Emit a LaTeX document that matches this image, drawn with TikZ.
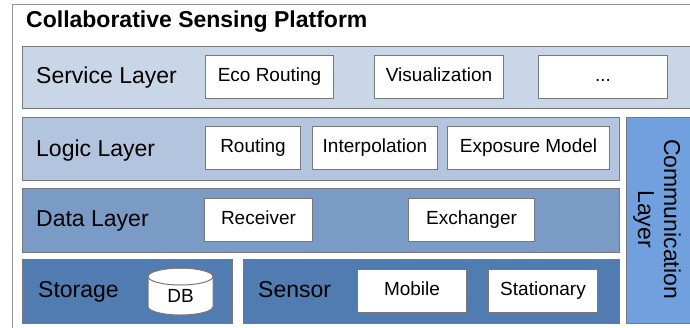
\documentclass[tikz,border=0pt]{standalone}
\usepackage{fontspec}
\setmainfont{Liberation Sans}
\usepackage{xcolor}
\usepackage{tikz}
\definecolor{FrameGray}{RGB}{150,150,150}
\definecolor{EdgeGray}{RGB}{120,120,120}
\definecolor{ServiceBlue}{RGB}{201,214,232}
\definecolor{LogicBlue}{RGB}{178,196,222}
\definecolor{DataBlue}{RGB}{122,155,198}
\definecolor{DeviceBlue}{RGB}{80,124,178}
\definecolor{CommBlue}{RGB}{112,161,222}

\tikzset{
  layerbox/.style={draw=EdgeGray,line width=1pt,anchor=north west,inner sep=0pt},
  itembox/.style={draw=EdgeGray,fill=white,line width=1pt,anchor=north west,
    inner sep=0pt,text height=13.6pt,text depth=4pt,
    font=\fontsize{19}{22}\selectfont},
  layerlabel/.style={anchor=base west,inner sep=0pt,font=\fontsize{23}{26}\selectfont}
}

\begin{document}
\begin{tikzpicture}[x=1pt,y=-1pt]
    \useasboundingbox (0,0) rectangle (690,327);
    % platform frame and title
    \draw[FrameGray,line width=1pt,fill=white] (12,4) rectangle (700,340);
    \node[anchor=base west,inner sep=0pt,font=\fontsize{23}{26}\selectfont\bfseries]
      (title) at (26,27) {Collaborative Sensing Platform};

    % layers
    \node[layerbox,fill=ServiceBlue,minimum width=680,minimum height=62] (service) at (22,46) {};
    \node[layerbox,fill=LogicBlue,minimum width=597,minimum height=63] (logic) at (22,117) {};
    \node[layerbox,fill=DataBlue,minimum width=597,minimum height=64] (data) at (22,188) {};
    \node[layerbox,fill=DeviceBlue,minimum width=210,minimum height=64] (storage) at (22,259) {};
    \node[layerbox,fill=DeviceBlue,minimum width=376,minimum height=64] (sensor) at (243,259) {};
    \node[layerbox,fill=CommBlue,minimum width=76,minimum height=206] (comm) at (626,117) {};

    \node[layerlabel] (servicelbl) at (36,83) {Service Layer};
    \node[layerlabel] (logiclbl) at (36,156) {Logic Layer};
    \node[layerlabel] (datalbl) at (36,226) {Data Layer};
    \node[layerlabel] (storagelbl) at (38,297) {Storage};
    \node[layerlabel] (sensorlbl) at (258,297) {Sensor};
    \node[rotate=-90,align=center,inner sep=0pt,font=\fontsize{23}{26}\selectfont]
      (commlbl) at (657,219) {Communication\\Layer};

    % components
    \node[itembox,minimum width=128,minimum height=43] (eco) at (205,55) {Eco Routing};
    \node[itembox,minimum width=129,minimum height=43] (vis) at (374,55) {Visualization};
    \node[itembox,minimum width=129,minimum height=43] (more) at (538,55) {...};
    \node[itembox,minimum width=95,minimum height=43] (routing) at (205,126) {Routing};
    \node[itembox,minimum width=125,minimum height=43] (interp) at (312,126) {Interpolation};
    \node[itembox,minimum width=162,minimum height=43] (exposure) at (447,126) {Exposure Model};
    \node[itembox,minimum width=108,minimum height=43] (receiver) at (204,198) {Receiver};
    \node[itembox,minimum width=126,minimum height=43] (exchanger) at (408,198) {Exchanger};
    \node[itembox,minimum width=109,minimum height=43] (mobile) at (357,269) {Mobile};
    \node[itembox,minimum width=109,minimum height=43] (stationary) at (488,269) {Stationary};

    % database cylinder
    \draw[EdgeGray,line width=1pt,fill=white] (148,276.5) -- (148,306.5)
      arc[start angle=180,end angle=360,x radius=32.5pt,y radius=8.5pt]
      -- (213,276.5)
      arc[start angle=0,end angle=180,x radius=32.5pt,y radius=8.5pt] -- cycle;
    \draw[EdgeGray,line width=1pt] (180.5,276.5) ellipse[x radius=32.5pt,y radius=8.5pt];
    \node[anchor=base,inner sep=0pt,font=\fontsize{19}{22}\selectfont] (db) at (180.5,302) {DB};
\end{tikzpicture}
\end{document}
